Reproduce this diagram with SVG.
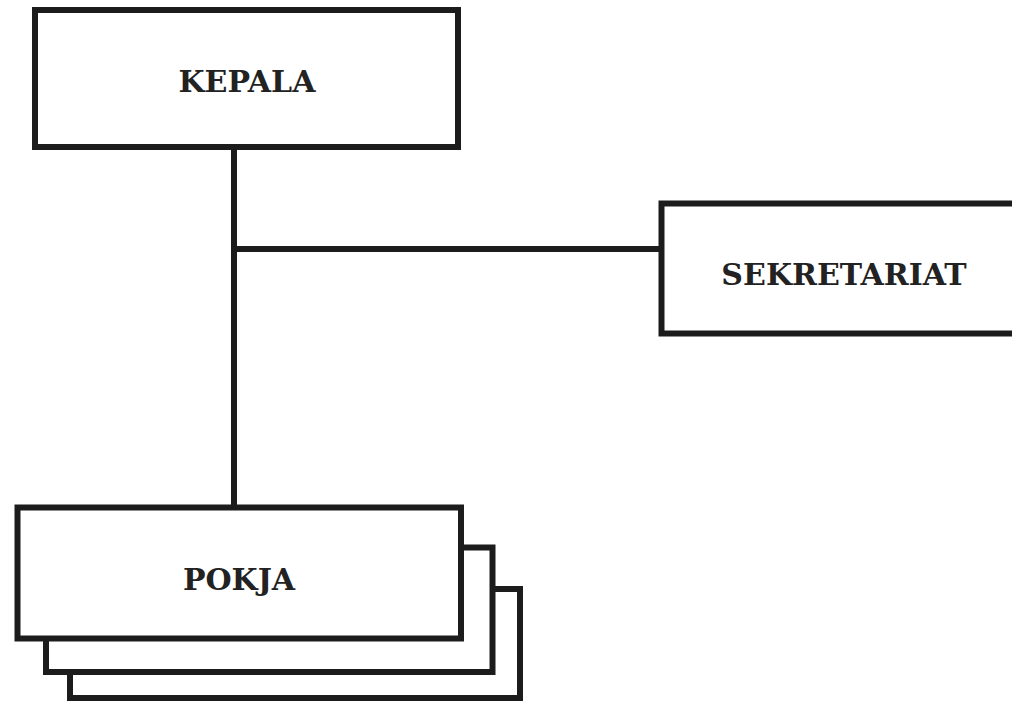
<svg xmlns="http://www.w3.org/2000/svg" width="1012" height="701" viewBox="0 0 1012 701">
  <style>
    .box { fill: #ffffff; stroke: #1c1c1c; stroke-width: 6; }
    .conn { fill: none; stroke: #1c1c1c; stroke-width: 6; }
    .label { font-family: "DejaVu Serif", "Liberation Serif", serif; font-weight: bold; font-size: 30px; fill: #222222; text-anchor: middle; }
  </style>
  <rect x="0" y="0" width="1012" height="701" fill="#ffffff"/>
  <g id="connectors">
    <line class="conn" x1="234" y1="147" x2="234" y2="508"/>
    <line class="conn" x1="231" y1="249" x2="662" y2="249"/>
  </g>
  <g id="kepala">
    <rect class="box" x="35" y="10" width="423" height="137"/>
    <text class="label" x="247" y="92">KEPALA</text>
  </g>
  <g id="sekretariat">
    <rect class="box" x="661.5" y="203.5" width="366" height="130"/>
    <text class="label" x="844" y="285">SEKRETARIAT</text>
  </g>
  <g id="pokja">
    <rect class="box" x="70" y="589" width="450" height="109"/>
    <rect class="box" x="46" y="547.5" width="446.5" height="124.5"/>
    <rect class="box" x="17.5" y="507.5" width="443.5" height="131"/>
    <text class="label" x="239" y="590">POKJA</text>
  </g>
</svg>
